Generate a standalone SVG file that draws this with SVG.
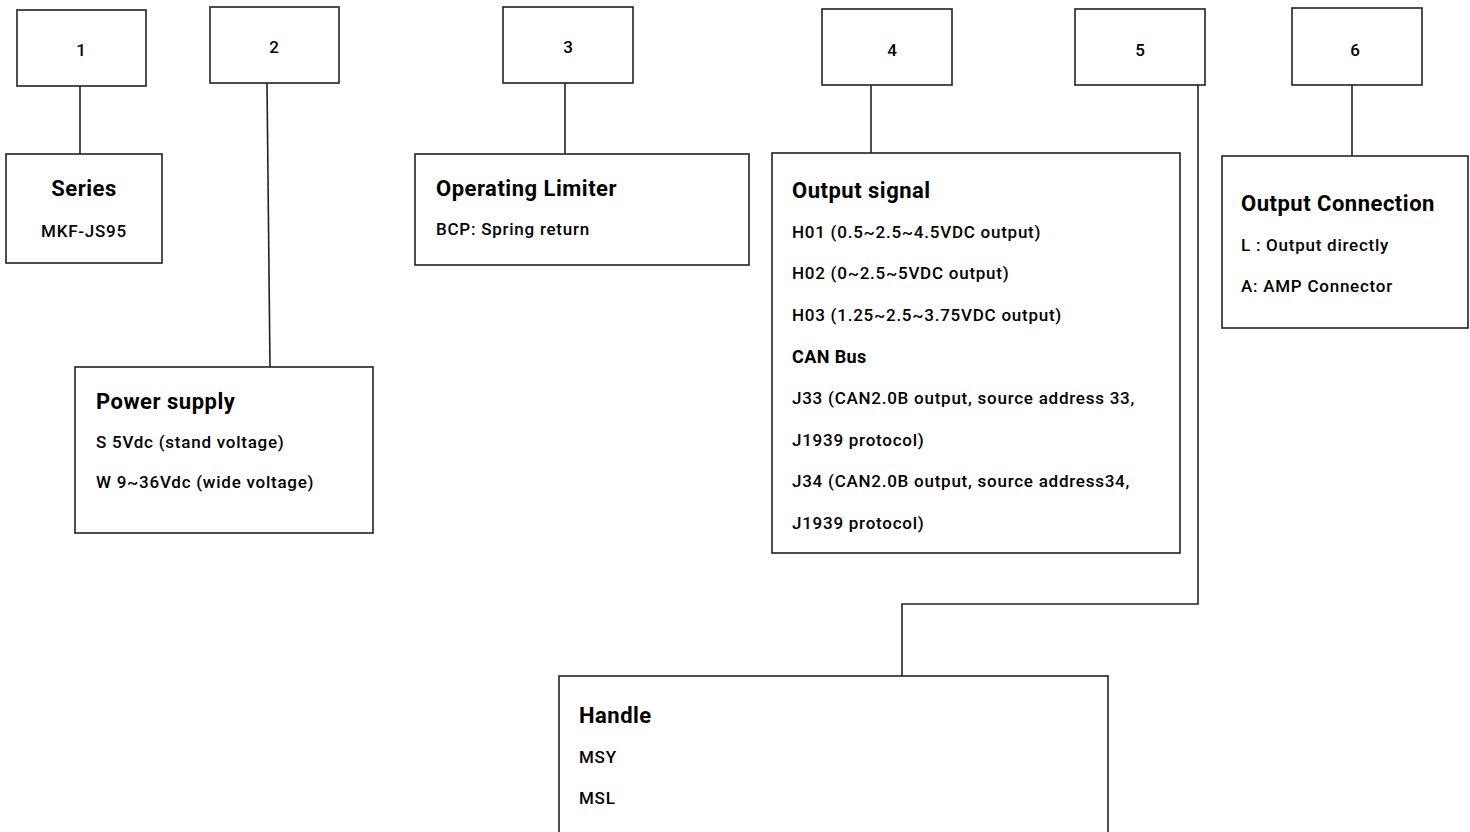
<svg xmlns="http://www.w3.org/2000/svg" width="1470" height="832" viewBox="0 0 1470 832">
<style>
.box{fill:#fff;stroke:#222;stroke-width:1.6}
.ln{fill:none;stroke:#222;stroke-width:1.6}
.num{font-family:"Roboto","Liberation Sans",sans-serif;font-size:17px;font-weight:500;fill:#000;text-anchor:middle}
.t{font-family:"Roboto","Liberation Sans",sans-serif;font-size:22px;font-weight:bold;letter-spacing:0.5px;fill:#000}
.b{font-family:"Roboto","Liberation Sans",sans-serif;font-size:17px;font-weight:500;letter-spacing:0.75px;fill:#000}
.s{font-family:"Roboto","Liberation Sans",sans-serif;font-size:18px;font-weight:bold;letter-spacing:0.4px;fill:#000}
</style>
<rect width="1470" height="832" fill="#fff"/>
<g id="connectors">
<line class="ln" x1="80" y1="86" x2="80" y2="154"/>
<line class="ln" x1="267" y1="83" x2="270" y2="367"/>
<line class="ln" x1="565" y1="83" x2="565" y2="154"/>
<line class="ln" x1="871" y1="85" x2="871" y2="153"/>
<polyline class="ln" points="1198,85 1198,604 902,604 902,676"/>
<line class="ln" x1="1352" y1="85" x2="1352" y2="156"/>
</g>
<g id="n1"><rect class="box" x="17" y="10" width="129" height="76"/><text class="num" x="81" y="56">1</text></g>
<g id="n2"><rect class="box" x="210" y="7" width="129" height="76"/><text class="num" x="274" y="53">2</text></g>
<g id="n3"><rect class="box" x="503" y="7" width="130" height="76"/><text class="num" x="568" y="53">3</text></g>
<g id="n4"><rect class="box" x="822" y="9" width="130" height="76"/><text class="num" x="892" y="56">4</text></g>
<g id="n5"><rect class="box" x="1075" y="9" width="130" height="76"/><text class="num" x="1140" y="56">5</text></g>
<g id="n6"><rect class="box" x="1292" y="8" width="130" height="77"/><text class="num" x="1355" y="56">6</text></g>
<g id="series"><rect class="box" x="6" y="154" width="156" height="109"/>
<text class="t" x="84" y="196" text-anchor="middle">Series</text>
<text class="b" x="84" y="237" text-anchor="middle">MKF-JS95</text></g>
<g id="power"><rect class="box" x="75" y="367" width="298" height="166"/>
<text class="t" x="96" y="409">Power supply</text>
<text class="b" x="96" y="448">S 5Vdc (stand voltage)</text>
<text class="b" x="96" y="488">W 9~36Vdc (wide voltage)</text></g>
<g id="limiter"><rect class="box" x="415" y="154" width="334" height="111"/>
<text class="t" x="436" y="196">Operating Limiter</text>
<text class="b" x="436" y="235">BCP: Spring return</text></g>
<g id="output"><rect class="box" x="772" y="153" width="408" height="400"/>
<text class="t" x="792" y="198">Output signal</text>
<text class="b" x="792" y="238">H01 (0.5~2.5~4.5VDC output)</text>
<text class="b" x="792" y="279">H02 (0~2.5~5VDC output)</text>
<text class="b" x="792" y="321">H03 (1.25~2.5~3.75VDC output)</text>
<text class="s" x="792" y="363">CAN Bus</text>
<text class="b" x="792" y="404">J33 (CAN2.0B output, source address 33,</text>
<text class="b" x="792" y="446">J1939 protocol)</text>
<text class="b" x="792" y="487">J34 (CAN2.0B output, source address34,</text>
<text class="b" x="792" y="529">J1939 protocol)</text></g>
<g id="connection"><rect class="box" x="1222" y="156" width="246" height="172"/>
<text class="t" x="1241" y="211">Output Connection</text>
<text class="b" x="1241" y="251">L : Output directly</text>
<text class="b" x="1241" y="292">A: AMP Connector</text></g>
<g id="handle"><rect class="box" x="559" y="676" width="549" height="170"/>
<text class="t" x="579" y="723">Handle</text>
<text class="b" x="579" y="763">MSY</text>
<text class="b" x="579" y="804">MSL</text></g>
</svg>
